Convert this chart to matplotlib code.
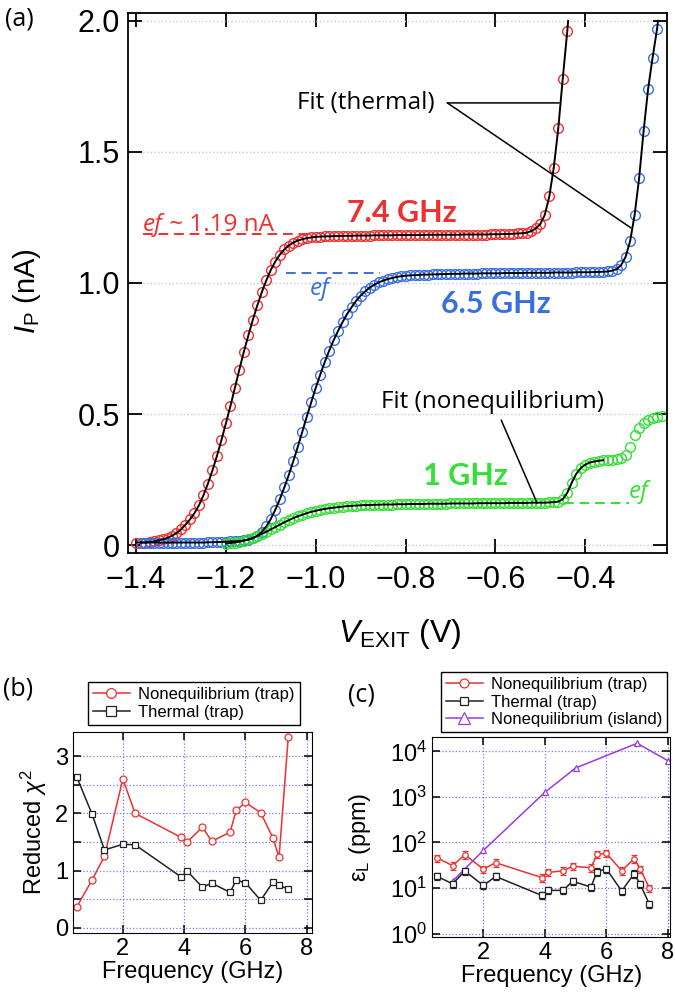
import matplotlib
matplotlib.use('Agg')
import matplotlib.pyplot as plt
import numpy as np

plt.rcParams['font.family'] = ['Liberation Sans', 'DejaVu Sans']
plt.rcParams['mathtext.fontset'] = 'custom'
plt.rcParams['mathtext.rm'] = 'Liberation Sans'
plt.rcParams['mathtext.it'] = 'Liberation Sans:italic'
plt.rcParams['mathtext.bf'] = 'Liberation Sans:bold'

# ---- (a) pumped current vs V_EXIT, data every 0.01 V ----
v_step = 0.01
v0_74, v0_65, v0_1 = -1.40, -1.39, -1.20

ip_74ghz = [0.010, 0.010, 0.010, 0.012, 0.014, 0.018, 0.022, 0.028, 0.036, 0.046,
            0.060, 0.078, 0.098, 0.122, 0.152, 0.190, 0.235, 0.285, 0.340, 0.400,
            0.465, 0.530, 0.600, 0.670, 0.738, 0.800, 0.860, 0.915, 0.965, 1.010,
            1.050, 1.082, 1.108, 1.128, 1.143, 1.154, 1.162, 1.167, 1.171, 1.174,
            1.176,
            1.177, 1.178, 1.178, 1.179, 1.179, 1.180, 1.180, 1.180, 1.181, 1.181,
            1.181, 1.181, 1.182, 1.182, 1.182, 1.182, 1.182, 1.183, 1.183, 1.183,
            1.183, 1.183, 1.183, 1.183, 1.184, 1.184, 1.184, 1.184, 1.184, 1.184,
            1.184, 1.184, 1.185, 1.185, 1.185, 1.185, 1.185, 1.185, 1.186, 1.186,
            1.186, 1.187, 1.187, 1.188, 1.189, 1.190, 1.192,
            1.198, 1.208, 1.225, 1.260, 1.330, 1.440, 1.590, 1.780, 1.960]

ip_65ghz = [0.010, 0.010, 0.010, 0.010, 0.010, 0.010, 0.010, 0.010, 0.010, 0.010,
            0.010, 0.010, 0.010, 0.010, 0.010, 0.011, 0.011, 0.012, 0.012, 0.013,
            0.014, 0.015, 0.016,
            0.018, 0.021, 0.026, 0.035, 0.050, 0.072, 0.100, 0.135, 0.175, 0.220,
            0.268, 0.320, 0.375, 0.432, 0.490, 0.545, 0.600, 0.650, 0.698, 0.742,
            0.782, 0.818, 0.852, 0.882, 0.908, 0.932, 0.952, 0.968, 0.982, 0.993,
            1.002, 1.009, 1.015, 1.019, 1.023, 1.026,
            1.028, 1.029, 1.030, 1.031, 1.032, 1.032, 1.033, 1.033, 1.034, 1.034,
            1.035, 1.035, 1.035, 1.036, 1.036, 1.036, 1.036, 1.037, 1.037, 1.037,
            1.037, 1.037, 1.038, 1.038, 1.038, 1.038, 1.038, 1.039, 1.039, 1.039,
            1.039, 1.039, 1.039, 1.040, 1.040, 1.040, 1.040, 1.040, 1.041, 1.041,
            1.041, 1.041, 1.042, 1.042, 1.043, 1.044,
            1.047, 1.053, 1.068, 1.100, 1.160, 1.260, 1.400, 1.580, 1.740, 1.860,
            1.970]

ip_1ghz = [0.006, 0.008, 0.010, 0.013, 0.017, 0.022, 0.028, 0.035, 0.043, 0.051,
           0.060, 0.069, 0.078, 0.087, 0.095, 0.103, 0.110, 0.116, 0.122, 0.127,
           0.131, 0.135, 0.138, 0.141, 0.143, 0.145, 0.147, 0.149, 0.150, 0.151,
           0.152, 0.153, 0.153, 0.154, 0.154, 0.155, 0.155, 0.155, 0.156, 0.156,
           0.156, 0.157, 0.157, 0.157, 0.157, 0.158, 0.158, 0.158, 0.158, 0.158,
           0.159, 0.159, 0.159, 0.159, 0.159, 0.159, 0.160, 0.160, 0.160, 0.160,
           0.160, 0.160, 0.160, 0.161, 0.161, 0.161, 0.161, 0.161, 0.162, 0.162,
           0.162, 0.162, 0.163, 0.164, 0.166,
           0.175, 0.200, 0.238, 0.272, 0.294, 0.307, 0.315, 0.319, 0.322, 0.324,
           0.325, 0.326, 0.328, 0.333, 0.345, 0.375, 0.420, 0.447, 0.466, 0.478,
           0.486, 0.490, 0.492]

# end points of the fit curves where they leave the plot / stop
fit_top_74 = (-0.438, 2.0)
fit_top_65 = (-0.238, 2.0)
fit_stop_1 = -0.355

ef_74, ef_65, ef_1 = 1.187, 1.040, 0.160

# ---- (b) reduced chi^2 ----
freq_trap = [0.5, 1.0, 1.4, 2.0, 2.4, 3.9, 4.1, 4.6, 4.9, 5.5, 5.7, 6.0, 6.5, 6.9, 7.1, 7.4]
chi2_noneq = [0.37, 0.84, 1.25, 2.60, 2.00, 1.58, 1.50, 1.76, 1.51, 1.67, 2.05, 2.19, 2.01, 1.57, 1.23, 3.33]
chi2_thermal = [2.63, 1.98, 1.36, 1.46, 1.45, 0.89, 0.99, 0.71, 0.78, 0.62, 0.83, 0.79, 0.48, 0.80, 0.74, 0.68]

# ---- (c) error rate eps_L (ppm) ----
eps_noneq = [46, 31, 54, 26, 36, 17, 22, 24, 30, 28, 55, 58, 24, 44, 26.5, 10]
eps_thermal = [18, 12.4, 23.6, 11.4, 18, 6.9, 8.9, 8.9, 14.2, 10.5, 23, 26.5, 8.6, 20.6, 12.4, 4.4]
freq_island = [1, 2, 4, 5, 7, 8]
eps_island = [14.2, 67, 1260, 4300, 15000, 6250]
eps_err_frac = 0.18

RED = '#ee3030'
BLUE = '#3a6ee0'
GREEN = '#33e033'
PURPLE = '#9a3ae6'
BOLDF = ['Lato', 'DejaVu Sans']
TXTF = ['Open Sans', 'DejaVu Sans']

v74 = np.round(v0_74 + v_step * np.arange(len(ip_74ghz)), 2)
v65 = np.round(v0_65 + v_step * np.arange(len(ip_65ghz)), 2)
v1 = np.round(v0_1 + v_step * np.arange(len(ip_1ghz)), 2)

fig = plt.figure(figsize=(6.75, 10), dpi=100)

# ================= panel (a) =================
ax = fig.add_axes([0.1896, 0.447, 0.7985, 0.540])
mk = dict(marker='o', ms=7, mfc='none', mew=1.0, ls='none')
ax.plot(v74, ip_74ghz, mec=RED, **mk)
ax.plot(v65, ip_65ghz, mec=BLUE, **mk)
ax.plot(v1, ip_1ghz, mec=GREEN, **mk)

ax.plot(list(v74) + [fit_top_74[0]], list(ip_74ghz) + [fit_top_74[1]], color='black', lw=1.4, zorder=5)
ax.plot(list(v65) + [fit_top_65[0]], list(ip_65ghz) + [fit_top_65[1]], color='black', lw=1.4, zorder=5)
m1 = v1 <= fit_stop_1
ax.plot(v1[m1], np.array(ip_1ghz)[m1], color='black', lw=1.4, zorder=5)

# ef dashed levels
ax.plot([-1.384, -1.013], [ef_74, ef_74], ls=(0, (5, 3)), color=RED, lw=1.4)
ax.plot([-1.067, -0.858], [ef_65, ef_65], ls=(0, (5, 3)), color=BLUE, lw=1.4)
ax.plot([-0.447, -0.302], [ef_1, ef_1], ls=(0, (5, 3)), color=GREEN, lw=1.4)

ax.set_xlim(-1.418, -0.218)
ax.set_ylim(-0.03, 2.03)
ax.set_xticks([-1.4, -1.2, -1.0, -0.8, -0.6, -0.4])
ax.set_xticklabels(['\u22121.4', '\u22121.2', '\u22121.0', '\u22120.8', '\u22120.6', '\u22120.4'])
ax.set_yticks([0, 0.5, 1.0, 1.5, 2.0])
ax.set_yticklabels(['0', '0.5', '1.0', '1.5', '2.0'])
ax.tick_params(direction='in', length=10, width=1.3, top=True, right=True, labelsize=22)
ax.tick_params(axis='x', pad=9)
ax.tick_params(axis='y', pad=6)
ax.yaxis.grid(True, ls=':', color='#c4c4f0', lw=1.0)
ax.set_axisbelow(True)
for s in ax.spines.values():
    s.set_linewidth(1.3)

ax.set_ylabel(r'$I_\mathrm{P}$ (nA)', fontsize=21)
ax.yaxis.set_label_coords(-0.158, 0.485)
ax.set_xlabel(r'$V_\mathrm{EXIT}$ (V)', fontsize=23)
ax.xaxis.set_label_coords(0.505, -0.118)

t_ef = ax.text(-1.384, 1.20, 'ef', color=RED, fontsize=17.5, style='italic', family=TXTF)
ax.annotate(' ~ 1.19 nA', xy=(1, 0), xycoords=t_ef, color=RED, fontsize=17.5, family=TXTF,
            va='bottom')
ax.text(-0.931, 1.233, '7.4 GHz', color=RED, fontsize=22, weight='bold', family=BOLDF)
ax.text(-0.720, 0.885, '6.5 GHz', color=BLUE, fontsize=22, weight='bold', family=BOLDF)
ax.text(-1.013, 0.955, 'ef', color=BLUE, fontsize=17.5, style='italic', family=TXTF)
ax.text(-0.762, 0.229, '1 GHz', color=GREEN, fontsize=22, weight='bold', family=BOLDF)
ax.text(-0.302, 0.18, 'ef', color=GREEN, fontsize=17.5, style='italic', family=TXTF)

ax.text(-1.042, 1.685, 'Fit (thermal)', fontsize=17.5, va='center', family=TXTF)
line_kw = dict(arrowstyle='-', color='black', lw=1.1, shrinkA=0, shrinkB=0)
ax.annotate('', xy=(-0.458, 1.687), xytext=(-0.707, 1.687), arrowprops=line_kw)
ax.annotate('', xy=(-0.298, 1.21), xytext=(-0.707, 1.687), arrowprops=line_kw)
ax.text(-0.607, 0.546, 'Fit (nonequilibrium)', fontsize=17.5, va='center', ha='center', family=TXTF)
ax.annotate('', xy=(-0.507, 0.16), xytext=(-0.587, 0.477), arrowprops=line_kw)

fig.text(0.008, 0.994, '(a)', fontsize=18, va='top', family=TXTF)

# ================= panel (b) =================
bx = fig.add_axes([0.108, 0.067, 0.354, 0.201])
bx.plot(freq_trap, chi2_noneq, color=RED, lw=1.1, marker='o', ms=5, mfc='white', mec=RED,
        mew=0.9, label='Nonequilibrium (trap)')
bx.plot(freq_trap, chi2_thermal, color='#222222', lw=1.1, marker='s', ms=5, mfc='white',
        mec='#222222', mew=0.9, label='Thermal (trap)')
bx.set_xlim(0.37, 8.17)
bx.set_ylim(-0.09, 3.42)
bx.set_xticks([2, 4, 6, 8])
bx.set_yticks([0, 1, 2, 3])
bx.set_yticks([0.5, 1.5, 2.5], minor=True)
bx.tick_params(which='both', direction='in', length=6, width=1.1, top=True, right=True, labelsize=17)
bx.grid(True, which='both', ls=':', color='#7878f0', lw=0.9)
bx.set_axisbelow(True)
bx.set_xlabel('Frequency (GHz)', fontsize=17, labelpad=1)
bx.set_ylabel(r'Reduced $\chi^2$', fontsize=17, labelpad=4)
bx.legend(loc='upper left', bbox_to_anchor=(88 / 675, 1 - 682 / 1000), bbox_transform=fig.transFigure,
          borderaxespad=0, fontsize=12, frameon=True, fancybox=False, edgecolor='black',
          framealpha=1, borderpad=0.3, labelspacing=0.15, handlelength=2.2, handletextpad=0.5,
          markerscale=1.4)
bx.get_legend().get_frame().set_linewidth(1.0)
fig.text(0.005, 0.323, '(b)', fontsize=18, va='top', family=TXTF)

# ================= panel (c) =================
cx = fig.add_axes([0.640, 0.063, 0.353, 0.200])
eb1 = cx.errorbar(freq_trap, eps_noneq, yerr=[eps_err_frac * e for e in eps_noneq], color=RED, lw=1.1,
                  marker='o', ms=4, mfc='white', mec=RED, mew=0.9, capsize=2.5, elinewidth=0.9)
eb2 = cx.errorbar(freq_trap, eps_thermal, yerr=[eps_err_frac * e for e in eps_thermal], color='#222222',
                  lw=1.1, marker='s', ms=4, mfc='white', mec='#222222', mew=0.9, capsize=2.5,
                  elinewidth=0.9)
l3, = cx.plot(freq_island, eps_island, color=PURPLE, lw=1.1, marker='^', ms=5, mfc='white', mec=PURPLE,
              mew=0.9)
cx.set_yscale('log')
cx.set_xlim(0.33, 8.08)
cx.set_ylim(0.845, 10 ** 4.314)
cx.set_yticks([1, 10, 100, 1000, 10000])
cx.minorticks_off()
cx.set_xticks([2, 4, 6, 8])
cx.tick_params(direction='in', length=6, width=1.1, top=True, right=True, labelsize=17)
cx.grid(True, ls=':', color='#7878f0', lw=0.9)
cx.set_axisbelow(True)
cx.set_xlabel('Frequency (GHz)', fontsize=17, labelpad=1)
cx.set_ylabel('\u03b5$_\\mathrm{L}$ (ppm)', fontsize=17, labelpad=12)
cx.legend([eb1.lines[0], eb2.lines[0], l3],
          ['Nonequilibrium (trap)', 'Thermal (trap)', 'Nonequilibrium (island)'],
          loc='upper left', bbox_to_anchor=(441 / 675, 1 - 672 / 1000), bbox_transform=fig.transFigure,
          borderaxespad=0, fontsize=12, frameon=True, fancybox=False, edgecolor='black',
          framealpha=1, borderpad=0.3, labelspacing=0.15, handlelength=2.2, handletextpad=0.5,
          markerscale=1.6)
cx.get_legend().get_frame().set_linewidth(1.0)
fig.text(0.516, 0.318, '(c)', fontsize=18, va='top', family=TXTF)

fig.savefig('out.png', dpi=100)
